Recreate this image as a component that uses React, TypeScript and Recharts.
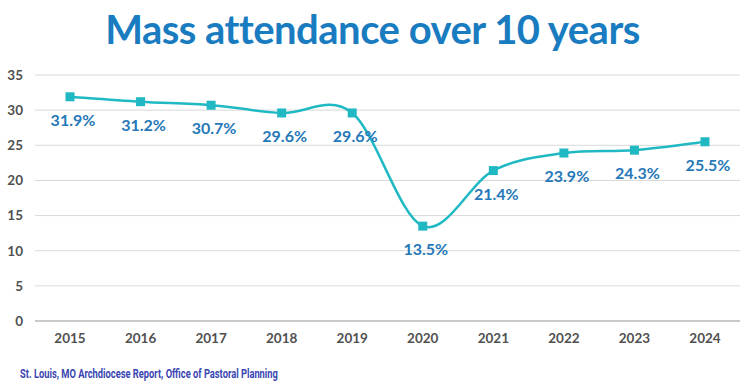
import { CartesianGrid, LabelList, Line, LineChart, XAxis, YAxis } from 'recharts';

const YEARS = ['2015', '2016', '2017', '2018', '2019', '2020', '2021', '2022', '2023', '2024'];
const ATTENDANCE = [31.9, 31.2, 30.7, 29.6, 29.6, 13.5, 21.4, 23.9, 24.3, 25.5];
const Y_TICKS = [0, 5, 10, 15, 20, 25, 30, 35];

const data = YEARS.map((year, i) => ({ year, value: ATTENDANCE[i] }));

const TEAL = '#20b9c3';
const LABEL_BLUE = '#2678b8';

// Catmull-Rom style smoothing, close to the spreadsheet "smoothed line"
function smoothCurve(context: any) {
  let pts: Array<[number, number]> = [];
  return {
    areaStart() {},
    areaEnd() {},
    lineStart() {
      pts = [];
    },
    point(x: number, y: number) {
      pts.push([+x, +y]);
    },
    lineEnd() {
      if (!pts.length) return;
      context.moveTo(pts[0][0], pts[0][1]);
      for (let i = 0; i < pts.length - 1; i++) {
        const p0 = pts[i - 1] || pts[i];
        const p1 = pts[i];
        const p2 = pts[i + 1];
        const p3 = pts[i + 2] || p2;
        context.bezierCurveTo(
          p1[0] + (p2[0] - p0[0]) / 6,
          p1[1] + (p2[1] - p0[1]) / 6,
          p2[0] - (p3[0] - p1[0]) / 6,
          p2[1] - (p3[1] - p1[1]) / 6,
          p2[0],
          p2[1]
        );
      }
    }
  };
}

function SquareDot({ cx, cy }: any) {
  if (cx == null || cy == null) return null;
  return <rect x={cx - 4.5} y={cy - 4.5} width={9} height={9} fill={TEAL} />;
}

function ValueLabel({ x, y, value }: any) {
  return (
    <text
      x={x + 3}
      y={y + 29}
      textAnchor="middle"
      fill={LABEL_BLUE}
      fontSize={16}
      fontWeight={700}
      fontFamily="Lato, 'Open Sans', sans-serif"
    >
      {value}%
    </text>
  );
}

export default function App() {
  return (
    <div style={{ position: 'fixed', left: 0, top: 0, width: 755, height: 387, background: '#fff' }}>
      <div
        style={{
          position: 'absolute',
          left: -5,
          top: 5,
          width: 755,
          textAlign: 'center',
          fontFamily: "Lato, 'Open Sans', sans-serif",
          fontWeight: 700,
          fontSize: 40,
          color: '#1a7cc0',
          letterSpacing: -0.5
        }}
      >
        Mass attendance over 10 years
      </div>
      <LineChart width={755} height={387} data={data} margin={{ top: 75, right: 15, bottom: 36, left: 0 }}>
        <CartesianGrid stroke="#d9d9d9" vertical={false} />
        <XAxis
          dataKey="year"
          padding={{ left: 35, right: 35 }}
          tickLine={false}
          axisLine={{ stroke: '#a6a6a6' }}
          height={30}
          tick={{ fill: '#505050', fontSize: 13.5, fontWeight: 700, fontFamily: "Lato, 'Open Sans', sans-serif" }}
          tickMargin={6}
        />
        <YAxis
          domain={[0, 35]}
          ticks={Y_TICKS}
          width={35}
          tickLine={false}
          axisLine={false}
          tick={{ fill: '#505050', fontSize: 13.5, fontWeight: 700, fontFamily: "Lato, 'Open Sans', sans-serif" }}
          tickMargin={6}
        />
        <Line
          type={smoothCurve as any}
          dataKey="value"
          stroke={TEAL}
          strokeWidth={2.5}
          dot={<SquareDot />}
          activeDot={false}
          isAnimationActive={false}
        >
          <LabelList dataKey="value" content={<ValueLabel />} />
        </Line>
      </LineChart>
      <div
        style={{
          position: 'absolute',
          left: 20,
          top: 365,
          fontFamily: "Roboto, 'Open Sans', sans-serif",
          fontWeight: 700,
          fontSize: 13.5,
          color: '#3a46b2',
          whiteSpace: 'nowrap',
          transform: 'scaleX(0.69)',
          transformOrigin: 'left top'
        }}
      >
        St. Louis, MO Archdiocese Report, Office of Pastoral Planning
      </div>
    </div>
  );
}
